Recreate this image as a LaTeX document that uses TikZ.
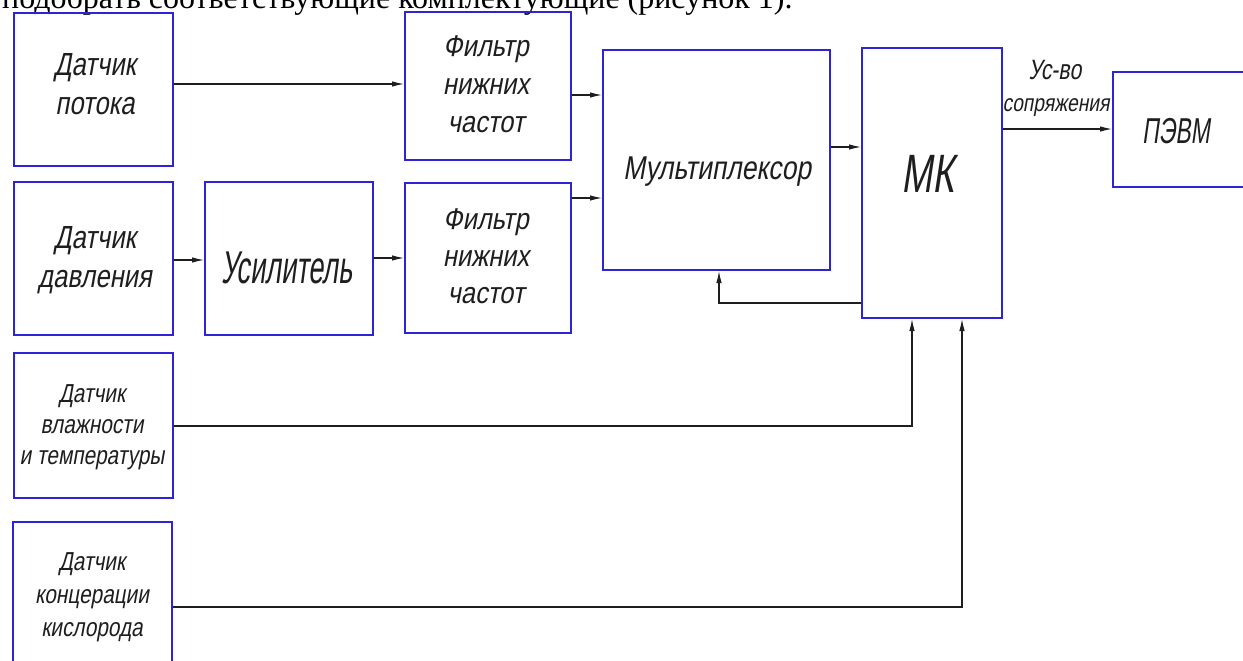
\documentclass[tikz,border=0pt]{standalone}
\usepackage{fontspec}
\usepackage{graphicx}
\usetikzlibrary{arrows.meta,calc}
\newfontfamily\gost[FakeSlant=0.22]{Liberation Sans}
\newfontfamily\cyrserif{Liberation Serif}
\definecolor{gblue}{RGB}{45,35,215}
\definecolor{ink}{RGB}{30,30,30}
\newcommand\gl[4]{\scalebox{#1}[1]{\fontsize{#2}{#3}\selectfont\begin{tabular}[t]{@{}c@{}}#4\end{tabular}}}
\tikzset{
  box/.style={draw=gblue, line width=2pt, inner sep=0pt, outer sep=1pt},
  lbl/.style={anchor=base, inner sep=0pt, outer sep=0pt, text=ink, font=\gost},
  arr/.style={draw=ink, line width=1.1pt, -{Latex[length=12pt,width=5.5pt]}},
}
\begin{document}
\begin{tikzpicture}[x=1pt,y=-1pt]
\useasboundingbox (0,0) rectangle (1243,661);
\clip (0,0) rectangle (1243,661);
\fill[white] (0,0) rectangle (1243,661);

% clipped caption line of the surrounding text
\node[anchor=base west, inner sep=0pt, text=black, font=\cyrserif\fontsize{32}{32}\selectfont] (cap) at (2,9) {подобрать соответствующие комплектующие (рисунок 1).};

% boxes
\node[box, minimum width=159pt, minimum height=153pt] (b1) at (93.5,89.5) {};
\node[box, minimum width=166pt, minimum height=148pt] (f1) at (488,86) {};
\node[box, minimum width=227pt, minimum height=220pt] (mux) at (716.5,160) {};
\node[box, minimum width=140pt, minimum height=270pt] (mk) at (932,183) {};
\node[box, minimum width=147pt, minimum height=115pt] (pc) at (1186.5,129.5) {};
\node[box, minimum width=159pt, minimum height=153pt] (b2) at (93.5,258.5) {};
\node[box, minimum width=168pt, minimum height=153pt] (amp) at (289,258.5) {};
\node[box, minimum width=166pt, minimum height=150pt] (f2) at (488,258) {};
\node[box, minimum width=159pt, minimum height=145pt] (b3) at (93.5,425.5) {};
\node[box, minimum width=159pt, minimum height=158pt] (b4) at (92.5,601) {};

% labels
\node[lbl] (tb1) at (95,76) {\gl{0.8}{32}{39}{Датчик\\потока}};
\node[lbl] (tb2) at (95,248) {\gl{0.8}{32}{39}{Датчик\\давления}};
\node[lbl] (tf1) at (486,57) {\gl{0.85}{30}{38}{Фильтр\\нижних\\частот}};
\node[lbl] (tf2) at (486,229) {\gl{0.85}{30}{37}{Фильтр\\нижних\\частот}};
\node[lbl] (tmux) at (717,179) {\gl{0.8}{33}{40}{Мультиплексор}};
\node[lbl] (tmk) at (928,192) {\gl{0.69}{54}{60}{МК}};
\node[lbl] (tpc) at (1176,143) {\gl{0.64}{36}{40}{ПЭВМ}};
\node[lbl] (tamp) at (287,283) {\gl{0.59}{46}{50}{Усилитель}};
\node[lbl] (tb3) at (92,402) {\gl{0.8}{26}{31}{Датчик\\влажности\\и температуры}};
\node[lbl] (tb4) at (92,570) {\gl{0.8}{26}{33}{Датчик\\концерации\\кислорода}};
\node[lbl] (tif1) at (1055,80) {\gl{0.76}{28}{30}{Ус-во}};
\node[lbl] (tif2) at (1056,111) {\gl{0.8}{24}{26}{сопряжения}};

% connectors
\draw[arr] (b1.east |- 0,84) -- (f1.west |- 0,84);
\draw[arr] (f1.east |- 0,95) -- (mux.west |- 0,95);
\draw[arr] (b2.east |- 0,260) -- (amp.west |- 0,260);
\draw[arr] (amp.east |- 0,258) -- (f2.west |- 0,258);
\draw[arr] (f2.east |- 0,198) -- (mux.west |- 0,198);
\draw[arr] (mux.east |- 0,147) -- (mk.west |- 0,147);
\draw[arr] (mk.east |- 0,129) -- (pc.west |- 0,129);
\draw[arr] (mk.west |- 0,303) -- (719,303) -- (mux.south -| 719,0);
\draw[arr] (b3.east |- 0,426) -- (912,426) -- (mk.south -| 912,0);
\draw[arr] (b4.east |- 0,607) -- (962,607) -- (mk.south -| 962,0);
\end{tikzpicture}
\end{document}
